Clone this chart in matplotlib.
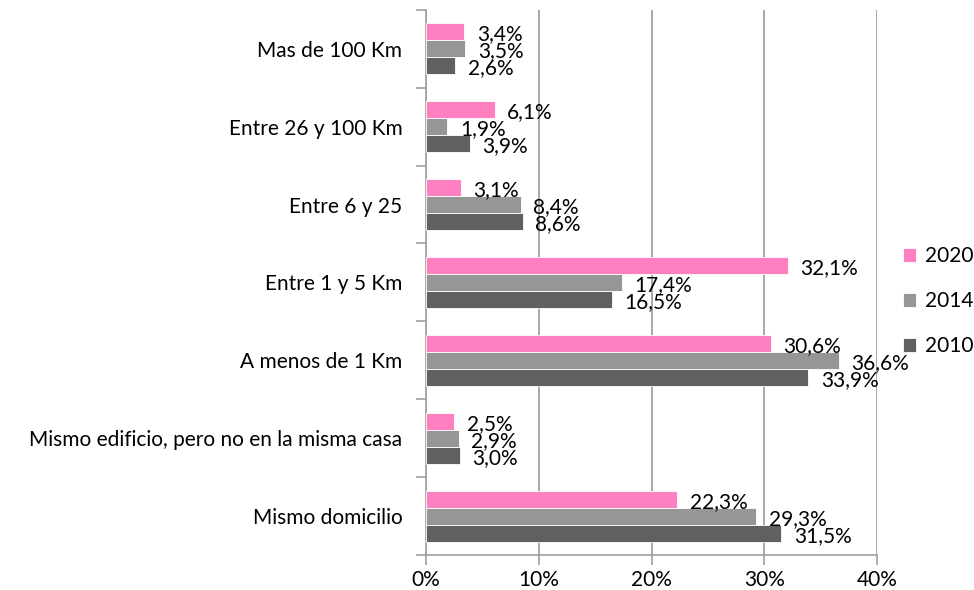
import matplotlib.pyplot as plt
import numpy as np

plt.rcParams['font.family'] = ['Lato', 'DejaVu Sans']

# Data (bottom to top)
categories = ["Mismo domicilio", "Mismo edificio, pero no en la misma casa",
              "A menos de 1 Km", "Entre 1 y 5 Km", "Entre 6 y 25",
              "Entre 26 y 100 Km", "Mas de 100 Km"]
v2010 = [31.5, 3.0, 33.9, 16.5, 8.6, 3.9, 2.6]
v2014 = [29.3, 2.9, 36.6, 17.4, 8.4, 1.9, 3.5]
v2020 = [22.3, 2.5, 30.6, 32.1, 3.1, 6.1, 3.4]
series = [("2010", v2010, "#606060"), ("2014", v2014, "#969696"), ("2020", v2020, "#ff80c0")]

fs = 15

fig = plt.figure(figsize=(9.74, 5.9), dpi=100)
ax = fig.add_axes([0.4374, 0.0593, 0.463, 0.924])

y = np.arange(len(categories))
h = 0.218
handles = []
for i, (name, vals, col) in enumerate(series):
    pos = y + (i - 1) * h
    b = ax.barh(pos, vals, h, color=col, edgecolor='white', linewidth=0.6, zorder=3, label=name)
    handles.append(b)
    for p, v in zip(pos, vals):
        ax.annotate(f"{v:.1f}%".replace('.', ','), (v, p), xytext=(9, -2),
                    textcoords='offset points', va='center', ha='left', fontsize=fs,
                    zorder=4)

ax.set_xlim(0, 40)
ax.set_ylim(-0.5, len(categories) - 0.5)
ax.set_xticks([0, 10, 20, 30, 40])
ax.set_xticklabels([f"{t}%" for t in [0, 10, 20, 30, 40]], fontsize=fs)
ax.set_yticks(y)
ax.set_yticklabels(categories, fontsize=fs)
ax.set_yticks(np.arange(-0.5, len(categories)), minor=True)
ax.tick_params(axis='y', which='major', length=0, pad=17)
ax.tick_params(axis='y', which='minor', length=7, color='#a0a0a0', width=1.2)
ax.tick_params(axis='x', length=7, color='#a0a0a0', width=1.2, pad=4)
ax.xaxis.grid(True, color='#a0a0a0', linewidth=1.3, zorder=0)
for s in ['top', 'right']:
    ax.spines[s].set_visible(False)
for s in ['left', 'bottom']:
    ax.spines[s].set_color('#a0a0a0')
    ax.spines[s].set_linewidth(1.2)

leg = fig.legend(handles[::-1], ["2020", "2014", "2010"], loc='center left',
                 bbox_to_anchor=(0.927, 0.49), frameon=False, fontsize=fs,
                 borderpad=0, borderaxespad=0,
                 handlelength=0.65, handleheight=0.65, labelspacing=1.2, handletextpad=0.4)

fig.savefig("out.png", dpi=100)
